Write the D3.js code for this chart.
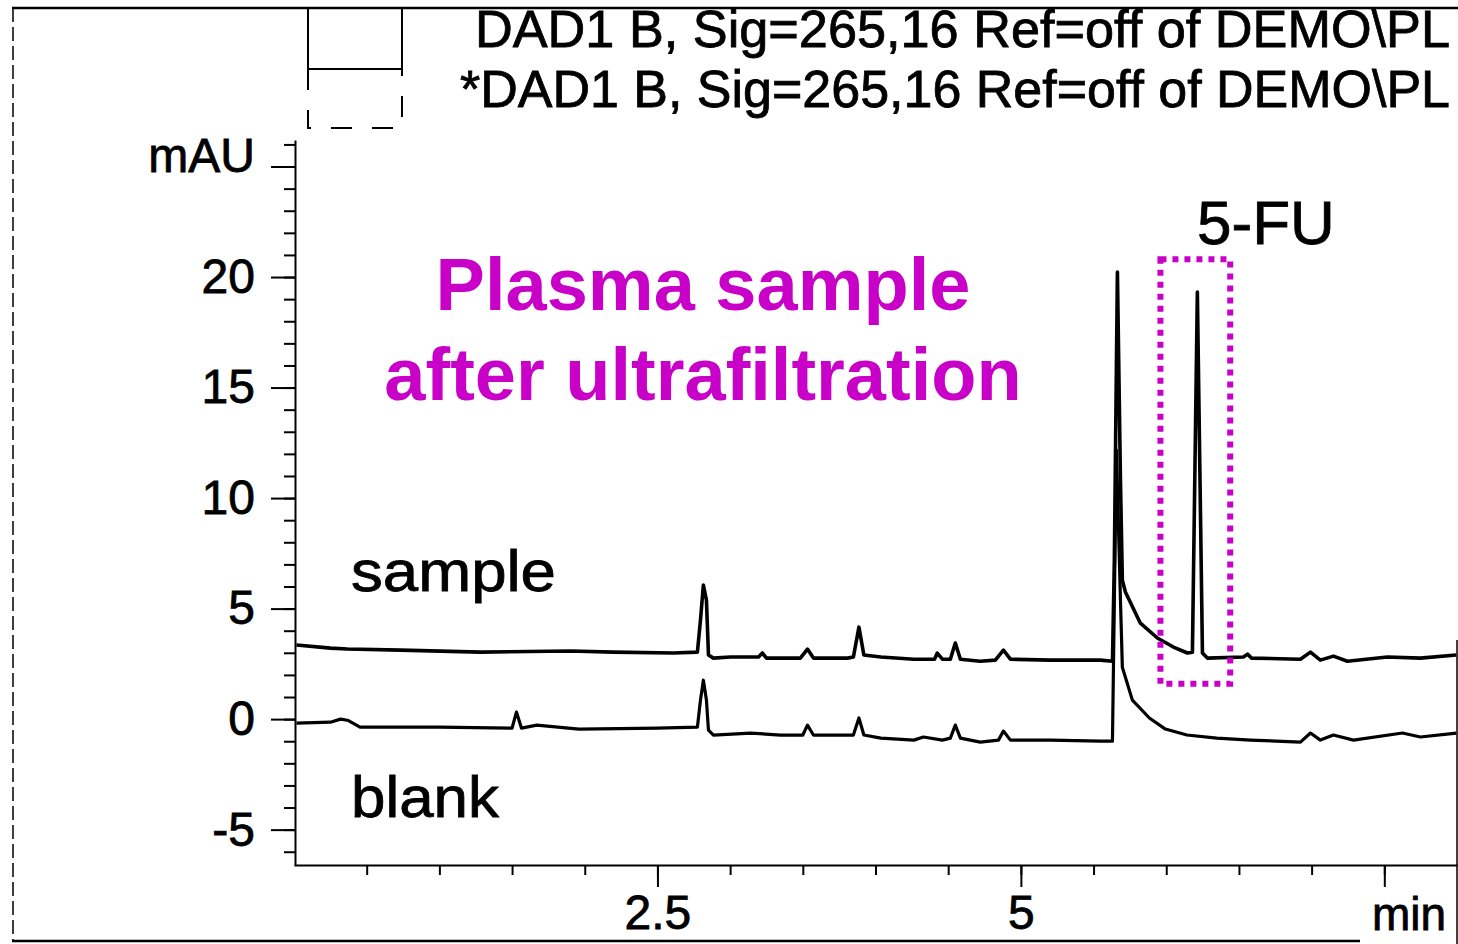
<!DOCTYPE html>
<html>
<head>
<meta charset="utf-8">
<script src="https://cdn.jsdelivr.net/npm/d3@7"></script>
<style>
  body { margin: 0; background: #fff; }
  svg { display: block; font-family: "Liberation Sans", Arial, sans-serif; }
</style>
</head>
<body>
<svg width="1458" height="944"></svg>
<script>
// retention time (min) and absorbance (mAU)
const sampleTime = [0.017, 0.251, 0.368, 0.733, 1.283, 1.900, 2.197, 2.610, 2.775, 2.796, 2.816, 2.837, 2.851, 2.885,
    3.002, 3.195, 3.222, 3.250, 3.483, 3.532, 3.573, 3.807, 3.848, 3.886, 3.920, 4.037, 4.264, 4.406, 4.425, 4.460,
    4.515, 4.549, 4.584, 4.721, 4.824, 4.880, 4.928, 5.203, 5.547, 5.630, 5.643, 5.664, 5.685, 5.698, 5.719, 5.822,
    5.939, 6.049, 6.146, 6.180, 6.214, 6.249, 6.283, 6.531, 6.559, 6.586, 6.923, 6.992, 7.060, 7.150, 7.246, 7.521,
    7.748, 7.995];
const sampleMAU = [3.35, 3.21, 3.17, 3.12, 3.03, 3.08, 3.03, 2.99, 3.03, 4.48, 6.06, 5.38, 2.90, 2.76,
    2.81, 2.81, 2.99, 2.76, 2.76, 3.17, 2.76, 2.76, 2.81, 4.16, 2.90, 2.81, 2.71, 2.71, 2.99, 2.71,
    2.71, 3.44, 2.71, 2.62, 2.67, 3.12, 2.71, 2.67, 2.67, 2.62, 7.19, 20.23, 10.81, 6.29, 5.75, 4.34,
    3.67, 3.26, 2.99, 3.03, 19.32, 2.99, 2.76, 2.81, 2.94, 2.76, 2.71, 3.03, 2.67, 2.85, 2.62, 2.81,
    2.76, 2.90];

const blankTime = [0.017, 0.251, 0.320, 0.368, 0.454, 1.000, 1.500, 1.530, 1.565, 1.670, 1.960, 2.500, 2.775, 2.796,
    2.816, 2.837, 2.851, 2.885, 3.140, 3.346, 3.500, 3.532, 3.573, 3.848, 3.886, 3.920, 4.037, 4.264, 4.330, 4.460,
    4.515, 4.549, 4.584, 4.721, 4.846, 4.880, 4.928, 5.203, 5.547, 5.630, 5.657, 5.685, 5.698, 5.767, 5.884, 5.994,
    6.142, 6.348, 6.579, 6.923, 6.992, 7.060, 7.150, 7.288, 7.625, 7.748, 7.995];
const blankMAU = [-0.18, -0.14, 0.00, -0.05, -0.36, -0.36, -0.41, 0.32, -0.41, -0.27, -0.45, -0.41, -0.36, 0.86,
    1.76, 0.86, -0.50, -0.72, -0.63, -0.72, -0.72, -0.27, -0.72, -0.72, 0.05, -0.72, -0.86, -0.95, -0.81, -0.95,
    -0.86, -0.27, -0.86, -1.04, -0.95, -0.54, -0.95, -0.95, -1.00, -1.00, 12.17, 5.38, 2.35, 0.86, 0.05, -0.45,
    -0.72, -0.86, -0.95, -1.04, -0.63, -0.95, -0.72, -0.95, -0.63, -0.81, -0.63];

const yMajorTicks = [-5, 0, 5, 10, 15, 20, 25];
const yTickText = ["-5", "0", "5", "10", "15", "20", ""];
const xMajorTicks = [2.5, 5, 7.5];
const xTickText = ["2.5", "5", ""];

const legendText = ["DAD1 B, Sig=265,16 Ref=off of DEMO\\PL", "*DAD1 B, Sig=265,16 Ref=off of DEMO\\PL"];
const titleLines = ["Plasma sample", "after ultrafiltration"];

const magenta = "#c800c8";

let svg = d3.select("svg");

let xScale = d3.scaleLinear().domain([0, 8]).range([294, 1457]);
let yScale = d3.scaleLinear().domain([-6.6, 26.2]).range([865, 140]);

// frame of the printout
let frame = svg.append("g").attr("stroke", "#000").attr("fill", "none");
frame.append("line").attr("x1", 12).attr("y1", 8).attr("x2", 1458).attr("y2", 8).attr("stroke-width", 2.5);
frame.append("line").attr("x1", 13).attr("y1", 8).attr("x2", 13).attr("y2", 941)
    .attr("stroke-width", 1.5).attr("stroke-dasharray", "14,5");
frame.append("line").attr("x1", 12).attr("y1", 941).attr("x2", 1360).attr("y2", 941).attr("stroke-width", 2.5);
frame.append("line").attr("x1", 1457).attr("y1", 640).attr("x2", 1457).attr("y2", 944).attr("stroke-width", 1.5);

// legend boxes
frame.append("rect").attr("x", 308).attr("y", 8).attr("width", 94).attr("height", 61).attr("stroke-width", 2);
frame.append("path").attr("d", "M308,69 V128 H402 V69").attr("stroke-width", 2).attr("stroke-dasharray", "21,20");

svg.selectAll(".legend")
    .data(legendText)
    .enter()
    .append("text")
    .attr("class", "legend")
    .attr("x", (d, i) => i == 0 ? 475 : 460)
    .attr("y", (d, i) => i == 0 ? 47 : 107)
    .attr("textLength", (d, i) => i == 0 ? 975 : 990)
    .attr("lengthAdjust", "spacingAndGlyphs")
    .attr("font-size", 52)
    .attr("stroke", "#000")
    .attr("stroke-width", 0.8)
    .text(d => d);

// axes
let yAxis = d3.axisLeft(yScale)
    .tickValues(yMajorTicks)
    .tickSize(24)
    .tickSizeOuter(0)
    .tickPadding(16)
    .tickFormat((d, i) => yTickText[i]);
let yMinor = d3.axisLeft(yScale)
    .tickValues(d3.range(-6, 27))
    .tickSize(11)
    .tickFormat("");
let xAxis = d3.axisBottom(xScale)
    .tickValues(xMajorTicks)
    .tickSize(22)
    .tickSizeOuter(0)
    .tickPadding(8)
    .tickFormat((d, i) => xTickText[i]);
let xMinor = d3.axisBottom(xScale)
    .tickValues(d3.range(0.5, 8, 0.5))
    .tickSize(10)
    .tickFormat("");

let gy = svg.append("g").attr("transform", "translate(295,0)").call(yAxis);
let gy2 = svg.append("g").attr("transform", "translate(295,0)").call(yMinor);
let gx = svg.append("g").attr("transform", "translate(0,865)").call(xAxis);
let gx2 = svg.append("g").attr("transform", "translate(0,865)").call(xMinor);
gy2.select(".domain").remove();
gx2.select(".domain").remove();

svg.selectAll(".domain, .tick line").attr("stroke", "#000").attr("stroke-width", 2);
svg.selectAll(".tick text")
    .attr("font-size", 48)
    .attr("font-family", "Liberation Sans, Arial, sans-serif")
    .attr("fill", "#000")
    .attr("stroke", "#000")
    .attr("stroke-width", 0.8);

svg.append("text").attr("x", 255).attr("y", 172).attr("text-anchor", "end")
    .attr("font-size", 48).attr("stroke", "#000").attr("stroke-width", 0.8).text("mAU");
svg.append("text").attr("x", 1372).attr("y", 930)
    .attr("font-size", 46).attr("stroke", "#000").attr("stroke-width", 0.8).text("min");

// traces
let line = d3.line()
    .x(d => xScale(d[0]))
    .y(d => yScale(d[1]));

svg.append("path")
    .datum(d3.zip(blankTime, blankMAU))
    .attr("fill", "none")
    .attr("stroke", "#000")
    .attr("stroke-width", 3.2)
    .attr("stroke-linejoin", "round")
    .attr("d", line);

svg.append("path")
    .datum(d3.zip(sampleTime, sampleMAU))
    .attr("fill", "none")
    .attr("stroke", "#000")
    .attr("stroke-width", 3.6)
    .attr("stroke-linejoin", "round")
    .attr("d", line);

// annotations
svg.append("text").attr("x", 351).attr("y", 591)
    .attr("font-size", 58).attr("textLength", 205).attr("lengthAdjust", "spacingAndGlyphs")
    .attr("stroke", "#000").attr("stroke-width", 0.8).text("sample");
svg.append("text").attr("x", 351).attr("y", 817)
    .attr("font-size", 58).attr("textLength", 148).attr("lengthAdjust", "spacingAndGlyphs")
    .attr("stroke", "#000").attr("stroke-width", 0.8).text("blank");
svg.append("text").attr("x", 1197).attr("y", 244)
    .attr("font-size", 62).attr("stroke", "#000").attr("stroke-width", 0.8).text("5-FU");

svg.selectAll(".title")
    .data(titleLines)
    .enter()
    .append("text")
    .attr("class", "title")
    .attr("x", 703)
    .attr("y", (d, i) => 310 + i * 90)
    .attr("text-anchor", "middle")
    .attr("font-size", 74)
    .attr("font-weight", "bold")
    .attr("fill", magenta)
    .text(d => d);

// dotted box around the 5-FU peak
svg.append("rect")
    .attr("x", xScale(5.96))
    .attr("y", yScale(20.8))
    .attr("width", xScale(6.44) - xScale(5.96))
    .attr("height", yScale(1.6) - yScale(20.8))
    .attr("fill", "none")
    .attr("stroke", magenta)
    .attr("stroke-width", 6)
    .attr("stroke-dasharray", "6,6");
</script>
</body>
</html>
